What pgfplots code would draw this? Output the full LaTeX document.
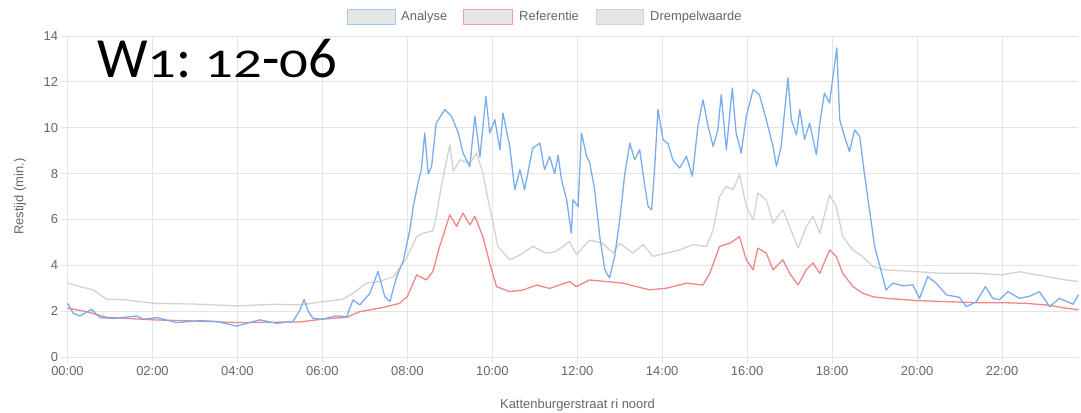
\documentclass[border=0pt]{standalone}
\usepackage{pgfplots}
\pgfplotsset{compat=1.18}
\usepackage{fontspec}
\setmainfont{Liberation Sans}
\newfontfamily\bigfont{Carlito}
\newcommand{\osf}[1]{\scalebox{1}[0.72]{#1}}
\definecolor{gridc}{HTML}{E4E4E4}
\definecolor{labelc}{HTML}{666666}
\definecolor{bluec}{HTML}{78AEF0}
\definecolor{redc}{HTML}{F08686}
\definecolor{greyc}{HTML}{D2D2D2}
\definecolor{boxfill}{HTML}{E6E6E6}
\begin{document}
\begin{tikzpicture}
\path[use as bounding box] (-67.5bp,-56bp) rectangle (1013.5bp,357bp);
\begin{axis}[
  at={(0,0)}, anchor=south west,
  scale only axis, width=1011bp, height=321bp,
  xmin=0, xmax=23.8, ymin=0, ymax=14,
  xtick={0,2,...,22},
  xticklabels={00:00,02:00,04:00,06:00,08:00,10:00,12:00,14:00,16:00,18:00,20:00,22:00},
  ytick={0,2,...,14},
  grid=major, grid style={draw=gridc, line width=0.8bp},
  axis x line*=bottom, axis y line*=left,
  axis line style={draw=gridc, line width=0.8bp, -},
  tick style={draw=gridc, line width=0.8bp}, tick align=outside, major tick length=6bp,
  ticklabel style={font=\fontsize{13}{15}\selectfont, text=labelc},
  /pgf/number format/assume math mode=true,
  clip=false,
  every axis plot/.append style={line width=1.3bp, line join=round, mark=none},
]
\addplot[greyc] coordinates {(0,3.23)(0.15,3.15)(0.29,3.07)(0.6,2.93)(0.92,2.52)(1.39,2.49)(2.03,2.34)(2.96,2.31)(4.0,2.23)(4.92,2.3)(5.47,2.27)(6.0,2.41)(6.49,2.52)(6.72,2.78)(7.04,3.22)(7.35,3.3)(7.67,3.5)(7.9,4.09)(8.0,4.38)(8.22,5.25)(8.37,5.4)(8.6,5.5)(8.68,6.13)(8.8,7.44)(9.0,9.26)(9.08,8.1)(9.24,8.6)(9.47,8.46)(9.63,8.9)(9.78,8.0)(9.9,6.86)(10.02,5.84)(10.13,4.82)(10.41,4.24)(10.65,4.45)(10.95,4.82)(11.27,4.53)(11.5,4.6)(11.82,5.04)(11.98,4.46)(12.29,5.1)(12.6,4.96)(12.84,4.53)(13.0,4.96)(13.31,4.53)(13.55,4.9)(13.78,4.39)(14.1,4.53)(14.41,4.67)(14.72,4.9)(15.04,4.82)(15.2,5.55)(15.35,7.0)(15.51,7.44)(15.67,7.3)(15.82,7.95)(15.98,6.56)(16.14,5.98)(16.25,7.15)(16.45,6.86)(16.61,5.84)(16.84,6.42)(17.0,5.69)(17.2,4.75)(17.39,5.69)(17.55,6.13)(17.71,5.4)(17.94,7.07)(18.1,6.56)(18.25,5.25)(18.49,4.67)(18.72,4.38)(18.96,3.94)(19.27,3.8)(20.0,3.72)(20.6,3.65)(21.39,3.65)(22.0,3.58)(22.41,3.72)(23.04,3.51)(23.51,3.36)(23.8,3.29)};
\addplot[redc] coordinates {(0,2.13)(0.45,1.98)(0.92,1.73)(2.03,1.62)(3.0,1.57)(4.0,1.5)(5.47,1.53)(6.0,1.65)(6.57,1.73)(6.88,1.98)(7.35,2.13)(7.82,2.34)(7.9,2.49)(8.0,2.63)(8.22,3.58)(8.45,3.36)(8.6,3.73)(8.76,4.82)(9.0,6.2)(9.16,5.69)(9.31,6.28)(9.47,5.76)(9.59,6.13)(9.78,5.25)(9.94,4.09)(10.1,3.07)(10.41,2.85)(10.72,2.92)(11.04,3.14)(11.35,2.99)(11.82,3.29)(11.98,3.07)(12.29,3.36)(12.69,3.29)(13.08,3.22)(13.39,3.07)(13.71,2.93)(14.1,3.0)(14.57,3.22)(14.96,3.14)(15.12,3.65)(15.35,4.82)(15.59,4.96)(15.82,5.25)(15.98,4.24)(16.14,3.8)(16.25,4.75)(16.45,4.53)(16.61,3.8)(16.84,4.24)(17.0,3.65)(17.2,3.14)(17.39,3.8)(17.55,4.1)(17.71,3.65)(17.94,4.67)(18.1,4.38)(18.25,3.65)(18.49,3.07)(18.72,2.78)(18.96,2.63)(19.27,2.56)(20.0,2.46)(20.6,2.42)(21.39,2.37)(22.0,2.37)(22.55,2.34)(23.04,2.27)(23.51,2.13)(23.8,2.06)};
\addplot[bluec] coordinates {(0,2.34)(0.14,1.9)(0.29,1.79)(0.57,2.08)(0.76,1.72)(1.07,1.68)(1.63,1.79)(1.79,1.65)(2.1,1.72)(2.57,1.5)(3.12,1.59)(3.51,1.55)(3.98,1.35)(4.53,1.62)(4.92,1.47)(5.31,1.55)(5.47,2.05)(5.57,2.52)(5.67,1.98)(5.78,1.68)(6.0,1.65)(6.33,1.79)(6.57,1.75)(6.72,2.49)(6.88,2.27)(7.12,2.78)(7.31,3.73)(7.47,2.63)(7.59,2.42)(7.75,3.51)(7.9,4.17)(8.06,5.55)(8.14,6.56)(8.25,7.58)(8.33,8.17)(8.41,9.77)(8.49,8.0)(8.57,8.3)(8.68,10.2)(8.88,10.79)(9.04,10.5)(9.2,9.77)(9.31,8.9)(9.47,8.3)(9.59,10.5)(9.71,8.73)(9.85,11.37)(9.94,9.77)(10.06,10.35)(10.18,9.04)(10.25,10.64)(10.41,9.2)(10.53,7.29)(10.65,8.17)(10.76,7.29)(10.95,9.1)(11.12,9.33)(11.23,8.17)(11.35,8.75)(11.47,8.0)(11.55,8.8)(11.63,7.73)(11.75,6.86)(11.86,5.4)(11.9,6.86)(12.02,6.56)(12.1,9.77)(12.22,8.75)(12.29,8.5)(12.41,7.29)(12.53,5.25)(12.65,3.8)(12.76,3.44)(12.88,4.38)(13.0,5.98)(13.12,8.0)(13.24,9.33)(13.35,8.6)(13.47,9.04)(13.59,7.45)(13.67,6.56)(13.75,6.42)(13.82,8.17)(13.9,10.79)(14.02,9.48)(14.14,9.3)(14.25,8.6)(14.41,8.24)(14.57,8.75)(14.71,7.88)(14.84,10.06)(14.96,11.22)(15.08,10.06)(15.2,9.18)(15.31,9.9)(15.39,11.44)(15.51,9.04)(15.65,11.73)(15.74,9.77)(15.86,8.9)(15.98,10.5)(16.14,11.66)(16.29,11.44)(16.45,10.35)(16.61,9.18)(16.69,8.31)(16.8,9.18)(16.96,12.17)(17.04,10.35)(17.16,9.69)(17.24,10.79)(17.35,9.48)(17.47,10.2)(17.63,8.82)(17.71,10.2)(17.82,11.51)(17.94,11.08)(18.02,12.24)(18.11,13.48)(18.18,10.35)(18.29,9.62)(18.41,8.96)(18.53,9.9)(18.65,9.62)(18.76,8.0)(18.88,6.42)(19.0,4.82)(19.12,4.0)(19.27,2.93)(19.43,3.22)(19.67,3.1)(19.9,3.15)(20.06,2.56)(20.25,3.51)(20.45,3.22)(20.69,2.71)(21.0,2.6)(21.16,2.2)(21.39,2.4)(21.61,3.07)(21.78,2.56)(21.94,2.5)(22.14,2.85)(22.41,2.56)(22.65,2.65)(22.88,2.85)(23.12,2.2)(23.35,2.56)(23.67,2.3)(23.8,2.71)};
\end{axis}
% axis titles
\node[rotate=90, font=\fontsize{13}{15}\selectfont, text=labelc] at (-47.5bp,160.5bp) {Restijd (min.)};
\node[font=\fontsize{13}{15}\selectfont, text=labelc] at (510bp,-48bp) {Kattenburgerstraat ri noord};
% legend
\draw[bluec!70, fill=boxfill, line width=0.8bp] (279.5bp,333bp) rectangle (327.5bp,348bp);
\node[anchor=base west, inner sep=0pt, font=\fontsize{13}{15}\selectfont, text=labelc] at (333.5bp,336bp) {Analyse};
\draw[redc!80, fill=boxfill, line width=0.8bp] (395.5bp,333bp) rectangle (444.5bp,348bp);
\node[anchor=base west, inner sep=0pt, font=\fontsize{13}{15}\selectfont, text=labelc] at (451.5bp,336bp) {Referentie};
\draw[greyc, fill=boxfill, line width=0.8bp] (528.5bp,333bp) rectangle (575.5bp,348bp);
\node[anchor=base west, inner sep=0pt, font=\fontsize{13}{15}\selectfont, text=labelc] at (582.5bp,336bp) {Drempelwaarde};
% overlay title
\node[anchor=base west, inner sep=0pt, font=\bigfont\fontsize{57}{60}\selectfont] at (29.5bp,279bp) {W\osf{1}:\hspace{-4bp} \osf{12}-\osf{0}6};
\end{tikzpicture}
\end{document}
